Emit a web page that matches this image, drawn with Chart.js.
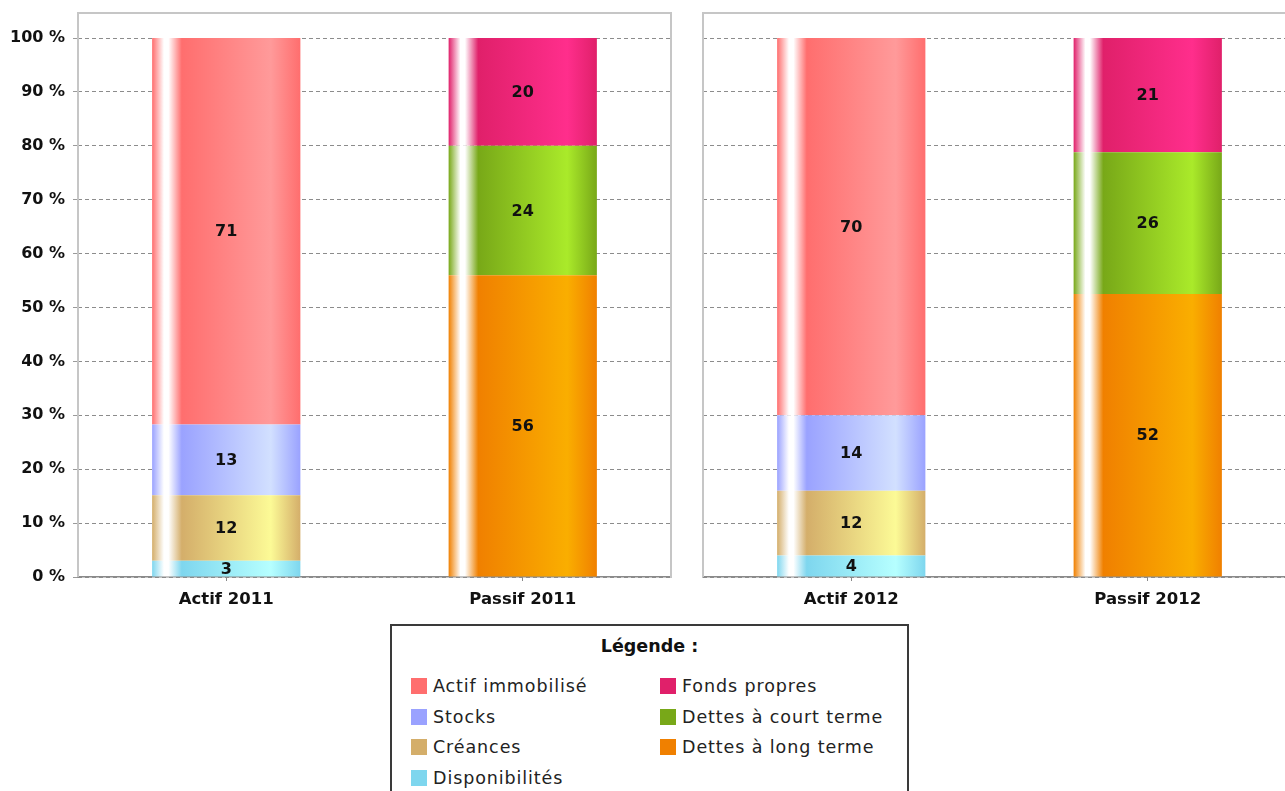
<!DOCTYPE html>
<html lang="fr">
<head>
<meta charset="utf-8">
<title>Bilan 2011 - 2012</title>
<script src="https://cdn.jsdelivr.net/npm/chart.js@4/dist/chart.umd.min.js"></script>
<style>
  html, body { margin: 0; padding: 0; background: #fff; }
  body { width: 1285px; height: 791px; overflow: hidden; position: relative; font-family: "DejaVu Sans", sans-serif; }
  #bilan2011 { position: absolute; left: 0; top: 0; }
  #bilan2012 { position: absolute; left: 690px; top: 0; }
  #legende {
    position: absolute; left: 390px; top: 624px; width: 515px; height: 200px;
    border: 2px solid #3a3a3a; background: #fff;
  }
  #legende .titre {
    position: absolute; left: 0; right: 0; top: 10px; text-align: center;
    font-weight: bold; font-size: 17.5px; color: #111;
  }
  #legende .item { position: absolute; height: 20px; line-height: 20px; font-size: 17.5px; letter-spacing: 0.9px; color: #222; white-space: nowrap; }
  #legende .carre { display: inline-block; width: 16px; height: 16px; vertical-align: -2px; margin-right: 6px; }
</style>
</head>
<body>
<canvas id="bilan2011" width="690" height="620"></canvas>
<canvas id="bilan2012" width="620" height="620"></canvas>
<div id="legende"><div class="titre">Légende :</div></div>

<script>
// Données du bilan (en % du total de chaque colonne)
const categories2011 = ['Actif 2011', 'Passif 2011'];
const categories2012 = ['Actif 2012', 'Passif 2012'];

// séries empilées de bas en haut
const actifNames = ['Disponibilités', 'Créances', 'Stocks', 'Actif immobilisé'];
const passifNames = ['Dettes à long terme', 'Dettes à court terme', 'Fonds propres'];

const actif2011 = [3, 12, 13, 71];
const passif2011 = [56, 24, 20];
const actif2012 = [4, 12, 14, 70];
const passif2012 = [52, 26, 21];

const yTicks = [0, 10, 20, 30, 40, 50, 60, 70, 80, 90, 100];

// couleurs (foncée, claire) pour le dégradé des barres
const actifColors = [['#7ed6ee', '#b6ffff'], ['#d4ae6a', '#fcfa96'], ['#9aa2ff', '#d2e0ff'], ['#ff6e6e', '#ff9a9a']];
const passifColors = [['#f08000', '#faae00'], ['#78a818', '#aaea2a'], ['#e0206a', '#ff2e8c']];

// dégradé horizontal façon JFreeChart
function degrade(c0, c1) {
    return function(context) {
        const chart = context.chart;
        if (!chart.chartArea || context.type !== 'data') return c0;
        const xs = chart.scales.x;
        const cx = xs.getPixelForValue(context.dataIndex);
        const w = xs.width / xs.ticks.length * 0.5;
        const g = chart.ctx.createLinearGradient(cx - w / 2, 0, cx + w / 2, 0);
        g.addColorStop(0, c0);
        g.addColorStop(0.08, '#ffffff');
        g.addColorStop(0.11, '#ffffff');
        g.addColorStop(0.2, c0);
        g.addColorStop(0.8, c1);
        g.addColorStop(1, c0);
        return g;
    };
}

function buildDatasets(actif, passif) {
    const totalA = actif.reduce((a, b) => a + b, 0);
    const totalP = passif.reduce((a, b) => a + b, 0);
    const ds = [];
    actifNames.forEach((name, i) => {
        ds.push({
            label: name,
            data: [actif[i] / totalA * 100, null],
            valeurs: [actif[i], null],
            backgroundColor: degrade(actifColors[i][0], actifColors[i][1])
        });
    });
    passifNames.forEach((name, i) => {
        ds.push({
            label: name,
            data: [null, passif[i] / totalP * 100],
            valeurs: [null, passif[i]],
            backgroundColor: degrade(passifColors[i][0], passifColors[i][1])
        });
    });
    return ds;
}

// cadre gris clair autour de la zone de tracé
const cadre = {
    id: 'cadre',
    beforeDatasetsDraw(chart) {
        const a = chart.chartArea;
        const ctx = chart.ctx;
        ctx.save();
        ctx.strokeStyle = '#c6c6c6';
        ctx.lineWidth = 2;
        ctx.beginPath();
        ctx.moveTo(a.left, a.bottom);
        ctx.lineTo(a.left, a.top);
        ctx.lineTo(a.right, a.top);
        ctx.lineTo(a.right, a.bottom);
        ctx.stroke();
        ctx.restore();
    }
};

// valeurs écrites au milieu de chaque segment
const etiquettes = {
    id: 'etiquettes',
    afterDatasetsDraw(chart) {
        const ctx = chart.ctx;
        ctx.save();
        ctx.font = 'bold 16px "DejaVu Sans"';
        ctx.fillStyle = '#111';
        ctx.textAlign = 'center';
        ctx.textBaseline = 'middle';
        chart.data.datasets.forEach((ds, i) => {
            const meta = chart.getDatasetMeta(i);
            meta.data.forEach((bar, j) => {
                if (ds.valeurs[j] == null) return;
                ctx.fillText(ds.valeurs[j], bar.x, (bar.y + bar.base) / 2 + 1);
            });
        });
        ctx.restore();
    }
};

function initBilanChart(id, labels, actif, passif, withAxis) {
    const ctx = document.getElementById(id);
    if (!ctx) return;

    new Chart(ctx, {
        type: 'bar',
        data: {
            labels: labels,
            datasets: buildDatasets(actif, passif)
        },
        options: {
            responsive: false,
            animation: false,
            layout: {
                padding: withAxis ? { left: 0, top: 13, right: 19, bottom: 0 } : { left: 13, top: 13, right: 14, bottom: 0 }
            },
            datasets: {
                bar: { categoryPercentage: 1, barPercentage: 0.5, borderWidth: 0 }
            },
            plugins: {
                legend: { display: false },
                tooltip: { enabled: false }
            },
            scales: {
                x: {
                    stacked: true,
                    afterFit: s => { s.height = 43; },
                    grid: { offset: false, drawOnChartArea: false, tickLength: 4, tickColor: '#888' },
                    border: { color: '#8a8a8a', width: 1.5 },
                    ticks: {
                        padding: 9,
                        color: '#111',
                        font: { family: 'DejaVu Sans', size: 16.5, weight: 'bold' }
                    }
                },
                y: {
                    stacked: true,
                    min: 0,
                    max: 104.64,
                    afterFit: s => {
                        s.width = withAxis ? 78 : 0;
                        s.paddingTop = 0;
                        s.paddingBottom = 0;
                    },
                    afterBuildTicks: s => { s.ticks = yTicks.map(v => ({ value: v })); },
                    grid: {
                        color: '#8c8c8c',
                        lineWidth: 1,
                        tickLength: 5,
                        drawTicks: withAxis,
                        tickColor: '#9a9a9a'
                    },
                    border: { display: false, dash: [4, 3] },
                    ticks: {
                        display: withAxis,
                        padding: 8,
                        color: '#111',
                        font: { family: 'DejaVu Sans', size: 16, weight: 'bold' },
                        callback: v => v + ' %'
                    }
                }
            }
        },
        plugins: [cadre, etiquettes]
    });
}

// légende HTML en deux colonnes
function initLegende() {
    const box = document.getElementById('legende');
    const colonnes = [
        { noms: actifNames.slice().reverse(), couleurs: actifColors.slice().reverse(), left: 19 },
        { noms: passifNames.slice().reverse(), couleurs: passifColors.slice().reverse(), left: 268 }
    ];
    colonnes.forEach(col => {
        col.noms.forEach((nom, i) => {
            const item = document.createElement('div');
            item.className = 'item';
            item.style.left = col.left + 'px';
            item.style.top = (50 + i * 30.7) + 'px';
            const carre = document.createElement('span');
            carre.className = 'carre';
            carre.style.background = col.couleurs[i][0];
            item.appendChild(carre);
            item.appendChild(document.createTextNode(nom));
            box.appendChild(item);
        });
    });
}

document.addEventListener('DOMContentLoaded', function() {
    initBilanChart('bilan2011', categories2011, actif2011, passif2011, true);
    initBilanChart('bilan2012', categories2012, actif2012, passif2012, false);
    initLegende();
});
</script>
</body>
</html>
